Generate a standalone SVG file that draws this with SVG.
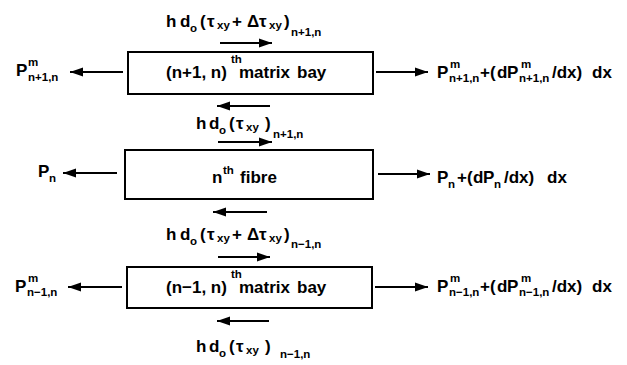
<svg xmlns="http://www.w3.org/2000/svg" width="627" height="365" viewBox="0 0 627 365">
<style>
text{font-family:"Liberation Sans",Arial,sans-serif;font-weight:bold;font-size:17px;fill:#000}
.s{font-size:11.5px}
.box{fill:#fff;stroke:#000;stroke-width:2}
.arr{stroke:#000;stroke-width:2;fill:none;marker-end:url(#ah)}
</style>
<defs>
<marker id="ah" markerUnits="userSpaceOnUse" markerWidth="14" markerHeight="10" refX="13" refY="5" orient="auto">
<path d="M0,0.5 L13,5 L0,9.5 z" fill="#000"/>
</marker>
</defs>
<rect width="627" height="365" fill="#fff"/>

<g id="bay-top">
<rect class="box" x="128" y="52" width="245" height="42"/>
<text><tspan x="166" y="78">(n+1, n)</tspan><tspan class="s" x="231" y="63">th</tspan><tspan x="239" y="78">matrix</tspan><tspan x="297" y="78">bay</tspan></text>
</g>
<g id="fibre">
<rect class="box" x="125" y="150" width="248" height="49"/>
<text><tspan x="212" y="183">n</tspan><tspan class="s" x="223" y="174">th</tspan><tspan x="240" y="183">fibre</tspan></text>
</g>
<g id="bay-bottom">
<rect class="box" x="127" y="267" width="245" height="41"/>
<text><tspan x="166" y="293">(n−1, n)</tspan><tspan class="s" x="231" y="278">th</tspan><tspan x="239" y="293">matrix</tspan><tspan x="297" y="293">bay</tspan></text>
</g>

<g id="connectors">
<line class="arr" x1="220" y1="43" x2="272" y2="43"/>
<line class="arr" x1="270" y1="106" x2="217" y2="106"/>
<line class="arr" x1="123" y1="72" x2="70" y2="72"/>
<line class="arr" x1="376" y1="72" x2="428" y2="72"/>
<line class="arr" x1="218" y1="142" x2="272" y2="142"/>
<line class="arr" x1="267" y1="212" x2="213" y2="212"/>
<line class="arr" x1="117" y1="173" x2="63" y2="173"/>
<line class="arr" x1="378" y1="174" x2="430" y2="174"/>
<line class="arr" x1="218" y1="257" x2="270" y2="257"/>
<line class="arr" x1="269" y1="321" x2="217" y2="321"/>
<line class="arr" x1="122" y1="287" x2="68" y2="287"/>
<line class="arr" x1="375" y1="287" x2="428" y2="287"/>
</g>

<g id="labels">
<text><tspan x="166" y="27">h</tspan><tspan x="180" y="27">d</tspan><tspan class="s" x="190" y="32">o</tspan><tspan x="200" y="27">(</tspan><tspan x="207" y="27">τ</tspan><tspan class="s" x="217" y="29">xy</tspan><tspan x="232" y="27">+</tspan><tspan x="247" y="27">Δ</tspan><tspan x="259" y="27">τ</tspan><tspan class="s" x="269" y="29">xy</tspan><tspan x="284" y="27">)</tspan><tspan class="s" x="291" y="36">n+1,n</tspan></text>
<text><tspan x="16" y="76">P</tspan><tspan class="s" x="28" y="66">m</tspan><tspan class="s" x="28" y="81">n+1,n</tspan></text>
<text><tspan x="437" y="78">P</tspan><tspan class="s" x="450" y="68">m</tspan><tspan class="s" x="449" y="82">n+1,n</tspan><tspan x="480" y="78">+(</tspan><tspan x="497" y="78">d</tspan><tspan x="507" y="78">P</tspan><tspan class="s" x="521" y="68">m</tspan><tspan class="s" x="519" y="82">n+1,n</tspan><tspan x="552" y="78">/dx)</tspan><tspan x="592" y="78">dx</tspan></text>

<text><tspan x="196" y="129">h</tspan><tspan x="209" y="129">d</tspan><tspan class="s" x="219" y="134">o</tspan><tspan x="229" y="129">(</tspan><tspan x="236" y="129">τ</tspan><tspan class="s" x="246" y="131">xy</tspan><tspan x="265" y="129">)</tspan><tspan class="s" x="273" y="138">n+1,n</tspan></text>
<text><tspan x="38" y="177">P</tspan><tspan class="s" x="49" y="182">n</tspan></text>
<text><tspan x="437" y="183">P</tspan><tspan class="s" x="448" y="188">n</tspan><tspan x="457" y="183">+(</tspan><tspan x="473" y="183">d</tspan><tspan x="483" y="183">P</tspan><tspan class="s" x="494" y="188">n</tspan><tspan x="504" y="183">/dx)</tspan><tspan x="547" y="183">dx</tspan></text>

<text><tspan x="166" y="240">h</tspan><tspan x="180" y="240">d</tspan><tspan class="s" x="190" y="245">o</tspan><tspan x="200" y="240">(</tspan><tspan x="207" y="240">τ</tspan><tspan class="s" x="217" y="242">xy</tspan><tspan x="232" y="240">+</tspan><tspan x="247" y="240">Δ</tspan><tspan x="259" y="240">τ</tspan><tspan class="s" x="269" y="242">xy</tspan><tspan x="284" y="240">)</tspan><tspan class="s" x="291" y="248">n−1,n</tspan></text>
<text><tspan x="15" y="292">P</tspan><tspan class="s" x="28" y="282">m</tspan><tspan class="s" x="27" y="296">n−1,n</tspan></text>
<text><tspan x="437" y="292">P</tspan><tspan class="s" x="450" y="282">m</tspan><tspan class="s" x="449" y="296">n−1,n</tspan><tspan x="480" y="292">+(</tspan><tspan x="497" y="292">d</tspan><tspan x="507" y="292">P</tspan><tspan class="s" x="521" y="282">m</tspan><tspan class="s" x="519" y="296">n−1,n</tspan><tspan x="552" y="292">/dx)</tspan><tspan x="592" y="292">dx</tspan></text>

<text><tspan x="196" y="352">h</tspan><tspan x="209" y="352">d</tspan><tspan class="s" x="219" y="357">o</tspan><tspan x="229" y="352">(</tspan><tspan x="236" y="352">τ</tspan><tspan class="s" x="246" y="354">xy</tspan><tspan x="265" y="352">)</tspan><tspan class="s" x="280" y="358">n−1,n</tspan></text>
</g>
</svg>
